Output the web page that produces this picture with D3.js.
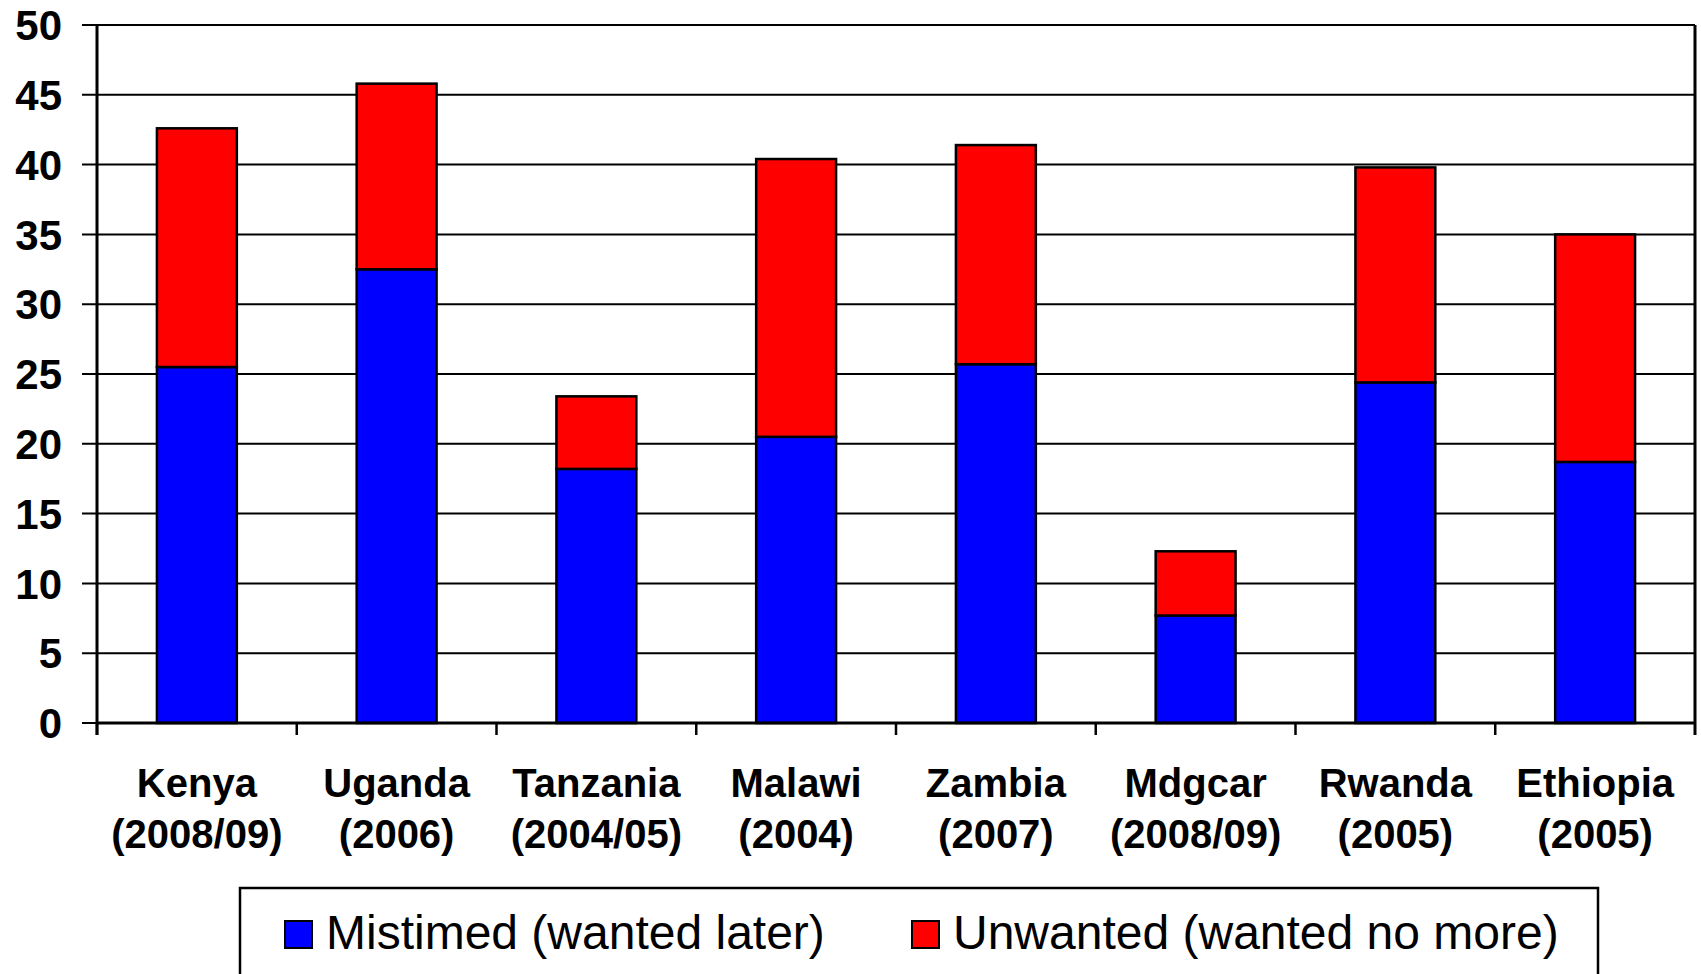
<!DOCTYPE html>
<html>
<head>
<meta charset="utf-8">
<script src="https://cdn.jsdelivr.net/npm/d3@7/dist/d3.min.js"></script>
<style>
  html, body { margin: 0; padding: 0; background: #fff; }
  svg { display: block; font-family: Arial, "Liberation Sans", sans-serif; }
</style>
</head>
<body>
<svg id="chart" width="1701" height="974"></svg>
<script>
// Unintended pregnancies by survey, split by type (%)
const countries = ["Kenya", "Uganda", "Tanzania", "Malawi", "Zambia", "Mdgcar", "Rwanda", "Ethiopia"];
const surveyYears = ["(2008/09)", "(2006)", "(2004/05)", "(2004)", "(2007)", "(2008/09)", "(2005)", "(2005)"];
const mistimed = [25.5, 32.5, 18.2, 20.5, 25.7, 7.7, 24.4, 18.7];
const unwanted = [17.1, 13.3, 5.2, 19.9, 15.7, 4.6, 15.4, 16.3];
const yTicks = [0, 5, 10, 15, 20, 25, 30, 35, 40, 45, 50];
const seriesNames = ["Mistimed (wanted later)", "Unwanted (wanted no more)"];
const seriesColors = ["#0000ff", "#ff0000"];

const svg = d3.select("#chart");
const plot = { left: 97, right: 1695, top: 25, bottom: 723 };

const x = d3.scaleBand()
  .domain(countries)
  .range([plot.left, plot.right])
  .paddingInner(0.6)
  .paddingOuter(0.3);

const y = d3.scaleLinear()
  .domain([0, 50])
  .range([plot.bottom, plot.top]);

// horizontal gridlines, with short ticks outside the left axis
svg.append("g")
  .selectAll("line")
  .data(yTicks)
  .join("line")
  .attr("x1", plot.left - 15)
  .attr("x2", plot.right)
  .attr("y1", d => y(d))
  .attr("y2", d => y(d))
  .attr("stroke", "#000")
  .attr("stroke-width", 2);

// y tick labels
svg.append("g")
  .selectAll("text")
  .data(yTicks)
  .join("text")
  .attr("x", plot.left - 35)
  .attr("y", d => y(d))
  .attr("dy", "0.36em")
  .attr("text-anchor", "end")
  .attr("font-size", 42)
  .attr("font-weight", "bold")
  .attr("fill", "#000")
  .text(d => d);

// stacked bars
const rows = countries.map((c, i) => ({ country: c, mistimed: mistimed[i], unwanted: unwanted[i] }));
const stack = d3.stack().keys(["mistimed", "unwanted"])(rows);

svg.append("g")
  .selectAll("g")
  .data(stack)
  .join("g")
  .attr("fill", (d, i) => seriesColors[i])
  .selectAll("rect")
  .data(d => d)
  .join("rect")
  .attr("x", d => x(d.data.country))
  .attr("width", x.bandwidth())
  .attr("y", d => y(d[1]))
  .attr("height", d => y(d[0]) - y(d[1]))
  .attr("stroke", "#000")
  .attr("stroke-width", 2.5);

// axes: left, bottom and right frame line
const step = x.step();
const boundaries = d3.range(countries.length + 1).map(k => plot.left + k * step);

svg.append("line")
  .attr("x1", plot.left).attr("x2", plot.left)
  .attr("y1", plot.top).attr("y2", plot.bottom + 12)
  .attr("stroke", "#000").attr("stroke-width", 3);

svg.append("line")
  .attr("x1", plot.left).attr("x2", plot.right)
  .attr("y1", plot.bottom).attr("y2", plot.bottom)
  .attr("stroke", "#000").attr("stroke-width", 3);

svg.append("g")
  .selectAll("line")
  .data(boundaries)
  .join("line")
  .attr("x1", d => d).attr("x2", d => d)
  .attr("y1", (d, i) => i === boundaries.length - 1 ? plot.top : plot.bottom)
  .attr("y2", plot.bottom + 12)
  .attr("stroke", "#000")
  .attr("stroke-width", (d, i) => i === boundaries.length - 1 ? 3 : 2.5);

// category labels (two lines)
const xl = svg.append("g")
  .selectAll("text")
  .data(countries)
  .join("text")
  .attr("text-anchor", "middle")
  .attr("font-size", 40)
  .attr("font-weight", "bold")
  .attr("fill", "#000");
xl.append("tspan")
  .attr("x", d => x(d) + x.bandwidth() / 2)
  .attr("y", 797)
  .text(d => d);
xl.append("tspan")
  .attr("x", d => x(d) + x.bandwidth() / 2)
  .attr("y", 848)
  .text((d, i) => surveyYears[i]);

// legend
const legend = svg.append("g");
legend.append("rect")
  .attr("x", 240).attr("y", 888)
  .attr("width", 1358).attr("height", 120)
  .attr("fill", "#fff")
  .attr("stroke", "#000")
  .attr("stroke-width", 2.5);

const legendX = [285, 912];
const items = legend.selectAll("g.item")
  .data(seriesNames)
  .join("g")
  .attr("class", "item")
  .attr("transform", (d, i) => `translate(${legendX[i]},921)`);
items.append("rect")
  .attr("width", 27).attr("height", 27)
  .attr("fill", (d, i) => seriesColors[i])
  .attr("stroke", "#000")
  .attr("stroke-width", 2);
items.append("text")
  .attr("x", 41)
  .attr("y", 28)
  .attr("font-size", 48)
  .attr("fill", "#000")
  .text(d => d);
</script>
</body>
</html>
